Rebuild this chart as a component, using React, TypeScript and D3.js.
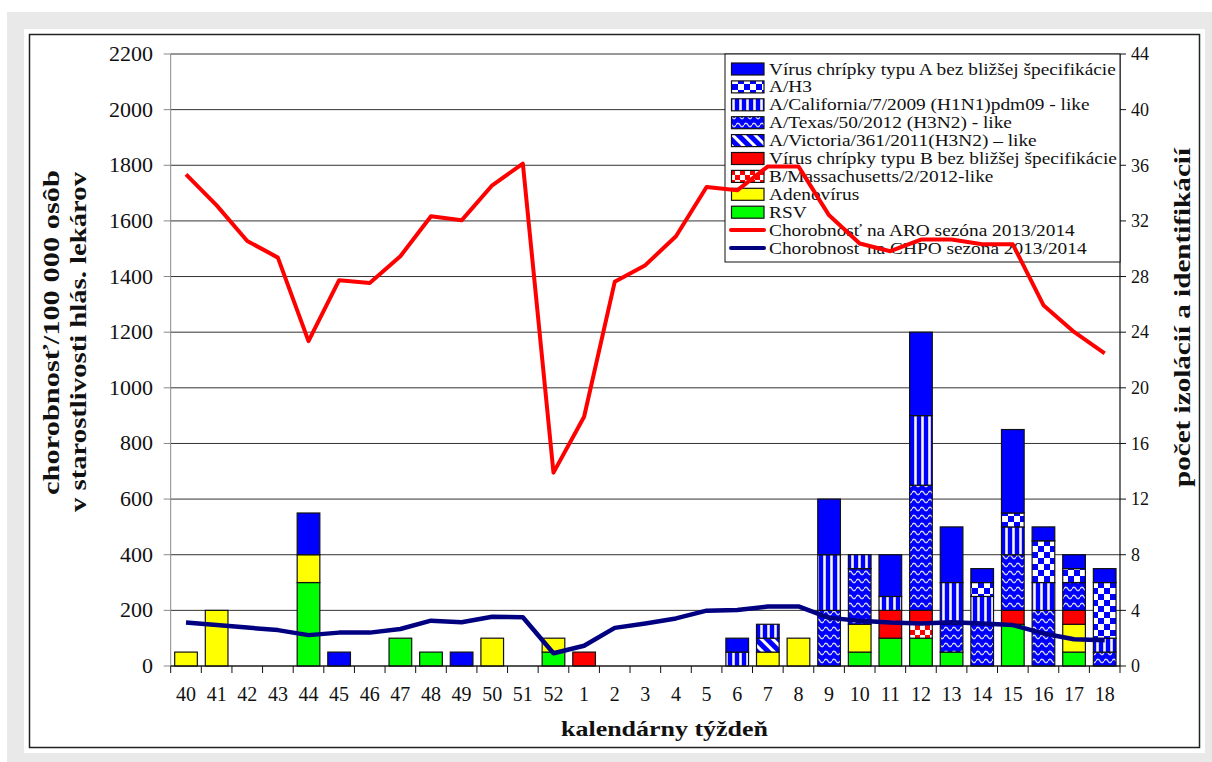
import React from "react";
import * as d3 from "d3";

const weeks = ["40","41","42","43","44","45","46","47","48","49","50","51","52","1","2","3","4","5","6","7","8","9","10","11","12","13","14","15","16","17","18"];

// counts of isolations (right axis)
const aUnspec  = [0,0,0,0,3,1,0,0,0,1,0,0,0, 0,0,0,0,0,1,0,0, 4,0,3,6,4,1,6,1,1,1];
const aH3      = [0,0,0,0,0,0,0,0,0,0,0,0,0, 0,0,0,0,0,0,0,0, 0,0,0,0,0,1,1,3,1,4];
const calif    = [0,0,0,0,0,0,0,0,0,0,0,0,0, 0,0,0,0,0,1,1,0, 4,1,1,5,3,2,2,2,0,1];
const texas    = [0,0,0,0,0,0,0,0,0,0,0,0,0, 0,0,0,0,0,0,0,0, 4,4,0,9,2,3,4,4,2,1];
const victoria = [0,0,0,0,0,0,0,0,0,0,0,0,0, 0,0,0,0,0,0,1,0, 0,0,0,0,0,0,0,0,0,0];
const bUnspec  = [0,0,0,0,0,0,0,0,0,0,0,0,0, 1,0,0,0,0,0,0,0, 0,0,2,1,0,0,1,0,1,0];
const bMass    = [0,0,0,0,0,0,0,0,0,0,0,0,0, 0,0,0,0,0,0,0,0, 0,0,0,1,0,0,0,0,0,0];
const adeno    = [1,4,0,0,2,0,0,0,0,0,2,0,1, 0,0,0,0,0,0,1,2, 0,2,0,0,0,0,0,0,2,0];
const rsv      = [0,0,0,0,6,0,0,2,1,0,0,0,1, 0,0,0,0,0,0,0,0, 0,1,2,2,1,0,3,0,1,0];

// morbidity per 100 000 (left axis)
const aro  = [1767,1656,1528,1468,1168,1387,1377,1473,1617,1602,1728,1806,695, 896,1381,1441,1545,1722,1710,1796,1796, 1620,1519,1491,1533,1533,1516,1516,1297,1201,1124];
const chpo = [156,147,138,129,111,120,120,133,163,157,177,175,46, 73,137,153,171,199,201,214,214, 173,163,156,153,157,153,147,117,96,93];

const leftTicks = [0,200,400,600,800,1000,1200,1400,1600,1800,2000,2200];
const rightTicks = [0,4,8,12,16,20,24,28,32,36,40,44];

// stacking order bottom -> top
const series = [
  { key: "rsv", label: "RSV", data: rsv, fill: "#00ff00" },
  { key: "adeno", label: "Adenovírus", data: adeno, fill: "#ffff00" },
  { key: "bMass", label: "B/Massachusetts/2/2012-like", data: bMass, fill: "url(#pBMass)" },
  { key: "bUnspec", label: "Vírus chrípky typu B bez bližšej špecifikácie", data: bUnspec, fill: "#ff0000" },
  { key: "victoria", label: "A/Victoria/361/2011(H3N2) – like", data: victoria, fill: "url(#pVict)" },
  { key: "texas", label: "A/Texas/50/2012 (H3N2) - like", data: texas, fill: "url(#pTexas)" },
  { key: "calif", label: "A/California/7/2009 (H1N1)pdm09 - like", data: calif, fill: "url(#pCalif)" },
  { key: "aH3", label: "A/H3", data: aH3, fill: "url(#pH3)" },
  { key: "aUnspec", label: "Vírus chrípky typu A bez bližšej špecifikácie", data: aUnspec, fill: "#0000ff" },
];

const FONT = "'Liberation Serif', 'Times New Roman', serif";

export default function App() {
  const W = 1212, H = 762;
  const x0 = 170.7, x1 = 1120, yTop = 54, yBot = 666;
  const x = d3.scaleBand<string>().domain(weeks).range([x0, x1]).paddingInner(0.26).paddingOuter(0.13);
  const yL = d3.scaleLinear().domain([0, 2200]).range([yBot, yTop]);
  const yR = d3.scaleLinear().domain([0, 44]).range([yBot, yTop]);
  const step = x.step();

  const rows = weeks.map((w, i) => {
    const r: any = { week: w };
    series.forEach(s => (r[s.key] = s.data[i]));
    return r;
  });
  const stack = d3.stack<any>().keys(series.map(s => s.key))(rows);

  const lineGen = (vals: number[]) =>
    d3.line<number>().x((_, i) => (x(weeks[i]) as number) + x.bandwidth() / 2).y(v => yL(v))(vals) as string;

  const legendItems = [...series].reverse().map(s => ({ label: s.label, fill: s.fill, line: null as any }));
  legendItems.push({ label: "Chorobnosť na ARO sezóna 2013/2014", fill: "", line: "#ff0000" });
  legendItems.push({ label: "Chorobnosť na CHPO sezóna 2013/2014", fill: "", line: "#000080" });

  const lgX = 725, lgY = 54, lgW = 395, lgH = 208, rowH = 17.9;

  return (
    <svg width={W} height={H} style={{ position: "absolute", left: 0, top: 0, display: "block" }} fontFamily={FONT}>
      <defs>
        <pattern id="pH3" patternUnits="userSpaceOnUse" width={12} height={12}>
          <rect width={12} height={12} fill="#ffffff" />
          <rect x={0} y={0} width={6} height={6} fill="#0000ff" />
          <rect x={6} y={6} width={6} height={6} fill="#0000ff" />
        </pattern>
        <pattern id="pBMass" patternUnits="userSpaceOnUse" width={10} height={10}>
          <rect width={10} height={10} fill="#ff0000" />
          <rect x={5} y={0} width={5} height={5} fill="#ffffff" />
          <rect x={0} y={5} width={5} height={5} fill="#ffffff" />
        </pattern>
        <pattern id="pCalif" patternUnits="userSpaceOnUse" width={7} height={7}>
          <rect width={7} height={7} fill="#0000ff" />
          <rect x={4.2} width={2.6} height={7} fill="#f4f4ff" />
        </pattern>
        <pattern id="pTexas" patternUnits="userSpaceOnUse" width={8} height={8}>
          <rect width={8} height={8} fill="#0000ff" />
          <path d="M0,5 Q2,1.5 4,5 T8,5" fill="none" stroke="#d4d4ff" strokeWidth={1.5} />
        </pattern>
        <pattern id="pVict" patternUnits="userSpaceOnUse" width={8} height={8} patternTransform="rotate(-45)">
          <rect width={8} height={8} fill="#0000ff" />
          <rect x={5} width={3.5} height={8} fill="#ffffff" />
        </pattern>
      </defs>

      {/* background */}
      <rect x={0} y={0} width={W} height={H} fill="#ffffff" />
      <rect x={7} y={12} width={W - 7} height={H - 12} fill="#e9e9e9" />
      <rect x={24} y={29} width={1181} height={724} fill="#ffffff" />
      <rect x={29.5} y={34.5} width={1170} height={713} fill="none" stroke="#222" strokeWidth={1.5} />

      {/* gridlines */}
      {leftTicks.map(t => (
        <line key={"g" + t} x1={x0} x2={x1} y1={yL(t)} y2={yL(t)} stroke="#333" strokeWidth={1} />
      ))}

      {/* left axis */}
      <line x1={x0} x2={x0} y1={yTop} y2={yBot} stroke="#888" strokeWidth={1} />
      {leftTicks.map(t => (
        <g key={"lt" + t}>
          <line x1={x0 - 7} x2={x0} y1={yL(t)} y2={yL(t)} stroke="#888" />
          <text transform={`translate(153,${yL(t)}) scale(1.1,1)`} dy="0.35em" textAnchor="end" fontSize={20} fill="#111">{t}</text>
        </g>
      ))}

      {/* right axis */}
      <line x1={x1} x2={x1} y1={yTop} y2={yBot} stroke="#111" strokeWidth={1.2} />
      {rightTicks.map(t => (
        <g key={"rt" + t}>
          <line x1={x1} x2={x1 + 6} y1={yR(t)} y2={yR(t)} stroke="#111" />
          <text x={x1 + 11} y={yR(t)} dy="0.35em" textAnchor="start" fontSize={18} fill="#111">{t}</text>
        </g>
      ))}

      {/* bars */}
      {stack.map((layer, si) => (
        <g key={layer.key} fill={series[si].fill}>
          {layer.map((d, i) =>
            d[1] - d[0] > 0 ? (
              <rect key={i} x={x(weeks[i])} y={yR(d[1])} width={x.bandwidth()} height={yR(d[0]) - yR(d[1])}
                stroke="#111" strokeWidth={1.2} />
            ) : null
          )}
        </g>
      ))}

      {/* x axis */}
      <line x1={x0} x2={x1} y1={yBot} y2={yBot} stroke="#111" strokeWidth={1.2} />
      {d3.range(weeks.length + 1).map(i => (
        <line key={"xt" + i} x1={x0 + i * step} x2={x0 + i * step} y1={yBot} y2={yBot + 7} stroke="#111" />
      ))}
      {weeks.map(w => (
        <text key={"xl" + w} x={(x(w) as number) + x.bandwidth() / 2} y={701} textAnchor="middle" fontSize={20} fill="#111">{w}</text>
      ))}

      {/* legend */}
      <rect x={lgX} y={lgY} width={lgW} height={lgH} fill="#ffffff" stroke="#111" strokeWidth={1} />
      {legendItems.map((it, i) => {
        const cy = 69 + i * rowH;
        return (
          <g key={"lg" + i}>
            {it.line ? (
              <line x1={731} x2={764} y1={cy} y2={cy} stroke={it.line} strokeWidth={4} strokeLinecap="round" />
            ) : (
              <rect x={731.5} y={cy - 6} width={32.5} height={12} fill={it.fill} stroke="#111" strokeWidth={1.2} />
            )}
            <text transform={`translate(769,${cy + 5.5}) scale(1.105,1)`} fontSize={17.5} fill="#111">{it.label}</text>
          </g>
        );
      })}

      {/* lines */}
      <path d={lineGen(chpo)} fill="none" stroke="#000080" strokeWidth={4.5} strokeLinejoin="round" />
      <path d={lineGen(aro)} fill="none" stroke="#ff0000" strokeWidth={4} strokeLinejoin="round" />

      {/* axis titles */}
      <text x={664.5} y={736} textAnchor="middle" fontSize={21} fontWeight="bold" fill="#111"
        textLength={207} lengthAdjust="spacingAndGlyphs">kalendárny týždeň</text>
      <text transform="translate(58.5,332.5) rotate(-90)" textAnchor="middle" fontSize={22.5} fontWeight="bold" fill="#111"
        textLength={325} lengthAdjust="spacingAndGlyphs">chorobnosť/100 000 osôb</text>
      <text transform="translate(85.5,342) rotate(-90)" textAnchor="middle" fontSize={22.5} fontWeight="bold" fill="#111"
        textLength={340} lengthAdjust="spacingAndGlyphs">v starostlivosti hlás. lekárov</text>
      <text transform="translate(1190,317.5) rotate(-90)" textAnchor="middle" fontSize={22.5} fontWeight="bold" fill="#111"
        textLength={339} lengthAdjust="spacingAndGlyphs">počet izolácií a identifikácií</text>
    </svg>
  );
}
